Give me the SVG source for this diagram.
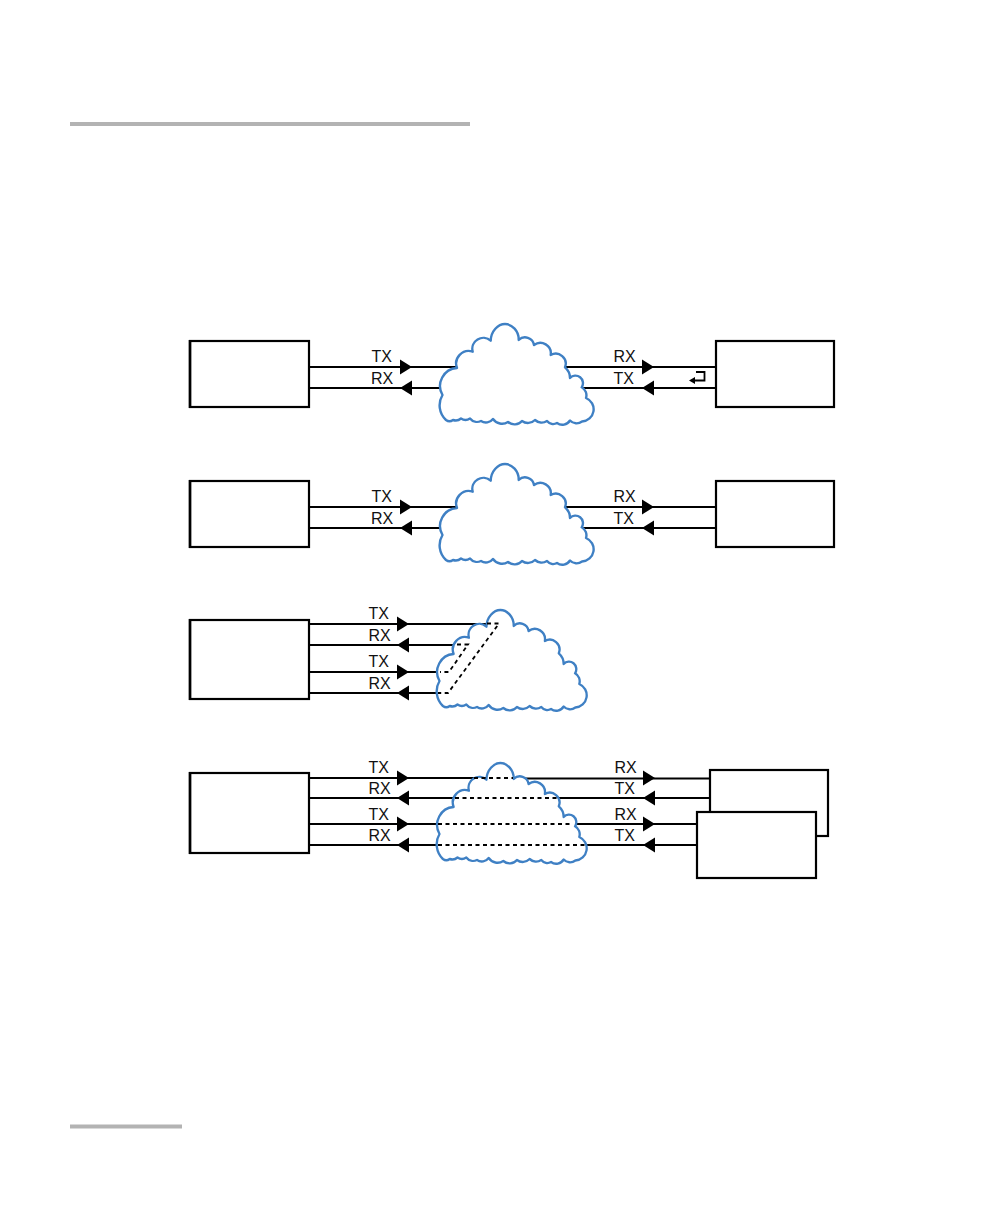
<svg xmlns="http://www.w3.org/2000/svg" width="1008" height="1224" viewBox="0 0 1008 1224">
<style>
.box{fill:#fff;stroke:#000;stroke-width:2.200}
.edge{fill:none;stroke:#000;stroke-width:2.600}
.ln{fill:none;stroke:#000;stroke-width:2.200}
.thin{fill:none;stroke:#000;stroke-width:1.800}
.dash{fill:none;stroke:#000;stroke-width:1.800;stroke-dasharray:4 3.500}
.cl{fill:#fff;stroke:#3f80c4;stroke-width:2.400;stroke-linejoin:round}
text{font-family:"Liberation Sans",Arial,sans-serif;font-size:16px;fill:#111}
</style>
<defs>
<path id="r" d="M0-7.500L12 0L0 7.500Z" fill="#000"/>
<path id="l" d="M12-7.500L0 0L12 7.500Z" fill="#000"/>
<path id="cloud" d="M457 368A12.500 12.500 0 0 1 472.700 351.700A11 11 0 0 1 490.700 340.700C491 331 498 324 505 324C512 324 519 331 518.700 340A9 9 0 0 1 534 345A10.500 10.500 0 0 1 550.700 355A10 10 0 0 1 565 367.300A14 14 0 0 1 570 378A7.500 7.500 0 0 1 581.700 387.300A9 9 0 0 1 586 398A12.200 12.200 0 0 1 582 421.500A9 9 0 0 1 570 420.500A9 9 0 0 1 557 423A8 8 0 0 1 547 421A10 10 0 0 1 535 420A10 10 0 0 1 522 421A10 10 0 0 1 508 422A11 11 0 0 1 493 419A9 9 0 0 1 481 421A9 9 0 0 1 470 418.500A8 8 0 0 1 461 418.500A8 8 0 0 1 453 420A6 6 0 0 1 446 420A20 20 0 0 1 442.500 395A18 18 0 0 1 457 368Z"/>
</defs>
<g id="rules">
<rect x="70" y="122" width="400" height="4" fill="#b3b3b3"/>
<rect x="70" y="1124.500" width="112" height="4" fill="#b3b3b3"/>
</g>
<g id="connectors">
<path class="ln" d="M310 367H480M310 388H480M530 367H716M530 388H716"/>
<path class="ln" d="M310 507H480M310 528H480M530 507H716M530 528H716"/>
<path class="ln" d="M310 624H490M310 645H490M310 672H490M310 693H490"/>
<path class="ln" d="M310 778H490M310 798H490M310 824H490M310 845H490"/>
<path class="ln" d="M500 778.500H710M500 798H710M500 824H697M500 845H697"/>
</g>
<g id="cloud1"><use href="#cloud" class="cl"/></g>
<g id="cloud2"><use href="#cloud" class="cl" y="140"/></g>
<g id="cloud3"><use href="#cloud" class="cl" transform="translate(8.500 286) scale(.974 1)"/></g>
<g id="cloud4"><use href="#cloud" class="cl" transform="translate(8.500 439) scale(.974 1)"/></g>
<g id="dashed">
<path class="dash" d="M487 623.500H499L448 693H438"/>
<path class="dash" d="M457 644.500H468L449 672H440"/>
<path class="dash" d="M474 778H513M455 798H557M438 824H571M438 845H586"/>
</g>
<g id="arrows">
<use href="#r" x="400" y="367"/><use href="#l" x="400" y="388"/><use href="#r" x="642" y="367"/><use href="#l" x="642" y="388"/>
<use href="#r" x="400" y="507"/><use href="#l" x="400" y="528"/><use href="#r" x="642" y="507"/><use href="#l" x="642" y="528"/>
<use href="#r" x="397" y="624"/><use href="#l" x="397" y="645"/><use href="#r" x="397" y="672"/><use href="#l" x="397" y="693"/>
<use href="#r" x="397" y="778"/><use href="#l" x="397" y="798"/><use href="#r" x="397" y="824"/><use href="#l" x="397" y="845"/>
<use href="#r" x="643" y="778"/><use href="#l" x="643" y="798"/><use href="#r" x="643" y="824"/><use href="#l" x="643" y="845"/>
</g>
<g id="node-a1"><rect class="box" x="190" y="341" width="119" height="66"/><path class="edge" d="M190 340V408"/></g>
<g id="node-b1"><rect class="box" x="716" y="341" width="118" height="66"/>
<path class="thin" d="M693 380.500H704.500V372H696"/><path d="M689 380.500L695 377V384Z" fill="#000"/></g>
<g id="node-a2"><rect class="box" x="190" y="481" width="119" height="66"/><path class="edge" d="M190 480V548"/></g>
<g id="node-b2"><rect class="box" x="716" y="481" width="118" height="66"/></g>
<g id="node-a3"><rect class="box" x="190" y="620" width="119" height="79"/><path class="edge" d="M190 619V700"/></g>
<g id="node-a4"><rect class="box" x="190" y="773" width="119" height="80"/><path class="edge" d="M190 772V854"/></g>
<g id="node-b4"><rect class="box" x="710" y="770" width="118" height="66"/></g>
<g id="node-c4"><rect class="box" x="697" y="812" width="119" height="66"/></g>
<g id="labels">
<text x="371.500" y="362">TX</text><text x="371" y="384">RX</text><text x="613.500" y="362">RX</text><text x="613.500" y="384">TX</text>
<text x="371.500" y="502">TX</text><text x="371" y="524">RX</text><text x="613.500" y="502">RX</text><text x="613.500" y="524">TX</text>
<text x="368.500" y="619">TX</text><text x="368.500" y="641">RX</text><text x="368.500" y="667">TX</text><text x="368.500" y="689">RX</text>
<text x="368.500" y="773">TX</text><text x="368.500" y="794">RX</text><text x="368.500" y="820">TX</text><text x="368.500" y="841">RX</text>
<text x="614.500" y="773">RX</text><text x="614.500" y="794">TX</text><text x="614.500" y="820">RX</text><text x="614.500" y="841">TX</text>
</g>
</svg>
